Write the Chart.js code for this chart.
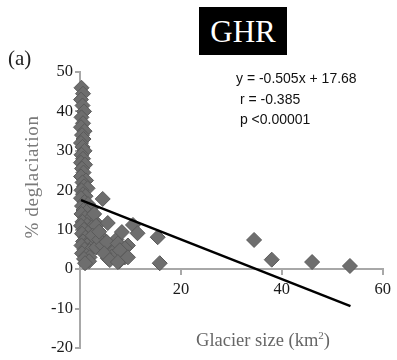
<!DOCTYPE html>
<html>
<head>
<meta charset="utf-8">
<script src="https://cdn.jsdelivr.net/npm/chart.js@4.4.1/dist/chart.umd.min.js"></script>
<style>
body{margin:0;background:#fff}
#wrap{position:relative;width:397px;height:360px;overflow:hidden}
#wrap div{position:absolute;white-space:nowrap}
#panel{left:8px;top:46px;font:21px "Liberation Serif",serif;color:#222}
#ghr{left:199px;top:7px;width:88px;height:48px;background:#000;color:#fff;font:31px "Liberation Serif",serif;text-align:center;line-height:50px}
#eq{left:236px;top:68px;font:14px "Liberation Sans",sans-serif;color:#111;line-height:20.5px}
#ytitle{left:32px;top:177px;font:19px "Liberation Serif",serif;color:#7a7a7a;transform:translate(-50%,-50%) rotate(-90deg);letter-spacing:0.7px}
#xtitle{left:263px;top:340px;font:18.5px "Liberation Serif",serif;color:#666;transform:translate(-50%,-50%)}
#xtitle sup{font-size:11px}
</style>
</head>
<body>
<div id="wrap">
<canvas id="Chart1HTML" width="397" height="360"></canvas>
<div id="panel">(a)</div>
<div id="ghr">GHR</div>
<div id="eq">y = -0.505x + 17.68<br>&nbsp;r = -0.385<br>&nbsp;p &lt;0.00001</div>
<div id="ytitle">% deglaciation</div>
<div id="xtitle">Glacier size (km<sup>2</sup>)</div>
</div>
<script>
// glacier size (km2) and % deglaciation
let SizeKm=[0.3,0.6,0.2,0.5,0.8,0.3,0.6,0.2,0.9,0.4,0.7,0.2,0.5,0.9,0.3,0.6,0.2,1.0,0.4,0.7,
0.2,1.2,0.5,0.8,1.5,0.3,0.6,1.1,0.2,0.9,1.6,0.4,2.2,0.7,1.3,0.3,2.6,1.0,1.8,0.5,
3.0,1.4,0.2,2.3,0.8,3.3,1.6,0.4,2.7,4.0,1.1,0.6,2.0,3.4,4.8,1.4,0.3,2.6,4.2,5.5,
0.9,1.9,3.2,0.4,1.3,1.9,0.8,1.8,6.2,7.2,
2.8,3.2,2.5,3.8,4.5,5.3,6.9,8.9,5.5,9.5,6.3,7.8,1.0,4.8,7.5,3.8,
4.5,5.5,8.3,10.5,11.4,15.4,8.9,7.9,5.9,7.5,9.5,15.8,34.5,38,46,53.5]
let DeglacPct=[46,44.5,43,41.5,40,38.5,37,36,35,34,33,32,31,30,29,28,27,26.5,25.5,24.5,
23.5,22.5,22,21,20.5,20,19,18.5,18,17,16.5,16,15.5,15,14.5,14,13.8,13,12.5,12,
12,11.2,11,10.5,10,9.8,9.2,9,8.6,8.3,8,7,7.2,7,7.4,6,6,5.8,5.6,6.2,
5,4.6,5.5,4,3.4,3,2.6,2,3.8,7.5,
14,11,8.5,7.5,6,6.9,4.8,3,2.8,6,3.2,2,1.5,4,6.5,9.5,
17.8,11.7,9.4,11.2,9.1,8.1,5.3,4.8,2.3,1.8,3,1.5,7.4,2.4,1.8,0.8]
// regression line end points
let FitX=[0.2,53.6]
let FitY=[17.5,-9.4]
let XTicks=[0,20,40,60]
let YTicks=[-20,-10,0,10,20,30,40,50]

let Chart1
let AxisGrey='#a8a8a8'
let TickFont={family:'Liberation Serif',size:16.5}

function Pts(X,Y){return X.map((v,i)=>({x:v,y:Y[i]}))}

function LoadC1(){
Chart1=new Chart(
document.getElementById('Chart1HTML'),
{
type:'scatter',
data:{
datasets:[
{
data:Pts(FitX,FitY),
showLine:true,
borderColor:'#000',
borderWidth:2.5,
pointRadius:0,
clip:false,
order:0
},
{
data:Pts(SizeKm,DeglacPct),
pointStyle:'rectRot',
pointRadius:7.5,
backgroundColor:'#6e6e6e',
borderColor:'#5a5a5a',
borderWidth:1,
clip:false,
order:1
}
]
},
options:{
responsive:false,
animation:false,
layout:{padding:{left:0,right:14,top:72,bottom:12}},
plugins:{legend:{display:false},tooltip:{enabled:false},title:{display:false}},
scales:{
x:{
type:'linear',
min:XTicks[0],max:XTicks[XTicks.length-1],
position:{y:0},
afterBuildTicks:(s)=>{s.ticks=XTicks.map(v=>({value:v}))},
afterFit:(s)=>{s.height=0},
ticks:{font:TickFont,color:'#1a1a1a',padding:6,maxRotation:0,callback:(v)=>v===0?'':v},
grid:{drawOnChartArea:false,drawTicks:true,tickLength:5,color:AxisGrey,lineWidth:2},
border:{color:AxisGrey,width:2}
},
y:{
type:'linear',
min:YTicks[0],max:YTicks[YTicks.length-1],
afterBuildTicks:(s)=>{s.ticks=YTicks.map(v=>({value:v}))},
afterFit:(s)=>{s.width=80},
ticks:{font:TickFont,color:'#1a1a1a',padding:2},
grid:{drawOnChartArea:false,drawTicks:true,tickLength:5,color:AxisGrey,lineWidth:2},
border:{color:AxisGrey,width:2}
}
}
}
}
);
}
LoadC1()
</script>
</body>
</html>
